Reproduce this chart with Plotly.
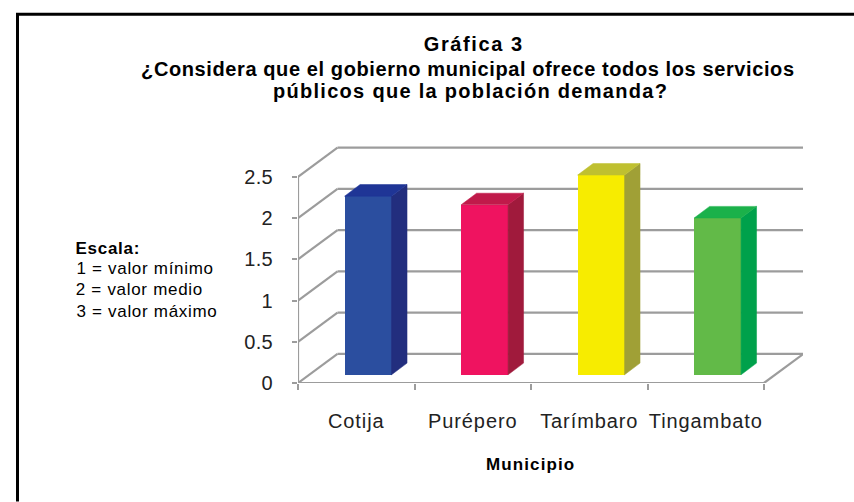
import json
import plotly.graph_objects as go

categorias = ["Cotija", "Purépero", "Tarímbaro", "Tingambato"]
valores = [2.165, 2.06, 2.42, 1.90]
color_frente = ["#2B4E9F", "#EF1360", "#F7EC00", "#62BA48"]
color_lado = ["#222E7E", "#A01A3C", "#A0A036", "#00A14B"]
color_tapa = ["#1F3596", "#C01A4A", "#BFC030", "#1BB14A"]
marcas_y = [0, 0.5, 1, 1.5, 2, 2.5]
etiquetas_y = ["0", "0.5", "1", "1.5", "2", "2.5"]

W, H = 854, 502
L, R, T, B = 298.0, 803.0, 145.7, 383.3
X_MAX = (R - L) / 116.5
Y_MAX = (B - T) / 82.7
PROF_X, PROF_Y = 0.339, 0.354      # wall depth in data units
BAR_DX, BAR_DY = 0.133, 0.141      # bar depth in data units
BAR_OFF, BAR_W, BAR_BASE = 0.40, 0.403, 0.10
GRID = "#9C9C9C"
FONT = "Liberation Sans"

def px(x):
    return (x - L) / (R - L)

def py(y):
    return (B - y) / (B - T)

fig = go.Figure()
n = len(categorias)
shapes = []

def grid(x0, y0, x1, y1):
    shapes.append(dict(type="line", xref="x", yref="y", x0=x0, y0=y0, x1=x1, y1=y1,
                       line=dict(color=GRID, width=2.2), layer="below"))

for m in marcas_y:
    grid(0, m, PROF_X, m + PROF_Y)
    grid(PROF_X, m + PROF_Y, n + PROF_X, m + PROF_Y)
grid(0, 0, 0, marcas_y[-1])
grid(0, 0, n, 0)
grid(n, 0, n + PROF_X, PROF_Y)

# outer frame: left and top edges only
shapes.append(dict(type="path", xref="paper", yref="paper",
                   path=f"M {px(17.5)} {py(H)} L {px(17.5)} {py(13.5)} L {px(W)} {py(13.5)}",
                   line=dict(color="#000000", width=3)))

for i, v in enumerate(valores):
    x0 = i + BAR_OFF
    x1 = x0 + BAR_W
    fig.add_trace(go.Bar(x=[x0 + BAR_W / 2], y=[v], base=[BAR_BASE], width=[BAR_W],
                         marker=dict(color=color_frente[i], line=dict(width=0)),
                         name=categorias[i], showlegend=False))
    top = BAR_BASE + v
    fig.add_trace(go.Scatter(
        x=[x1, x1 + BAR_DX, x1 + BAR_DX, x1, x1],
        y=[BAR_BASE, BAR_BASE + BAR_DY, top + BAR_DY, top, BAR_BASE],
        mode="lines", fill="toself", fillcolor=color_lado[i],
        line=dict(color=color_lado[i], width=0.5), showlegend=False, hoverinfo="skip"))
    fig.add_trace(go.Scatter(
        x=[x0, x1, x1 + BAR_DX, x0 + BAR_DX, x0],
        y=[top, top, top + BAR_DY, top + BAR_DY, top],
        mode="lines", fill="toself", fillcolor=color_tapa[i],
        line=dict(color=color_tapa[i], width=0.5), showlegend=False, hoverinfo="skip"))

espacios = []

def texto(x, y, s, size, bold=False, espacio=0.0):
    fig.add_annotation(xref="paper", yref="paper", x=px(x), y=py(y), text=f"<b>{s}</b>" if bold else s,
                       showarrow=False, xanchor="center", yanchor="middle",
                       font=dict(family=FONT, size=size, color="#000000"))
    espacios.append(espacio)

texto(474, 43, "Gráfica 3", 20, True, 1.6)
texto(467.5, 69, "¿Considera que el gobierno municipal ofrece todos los servicios", 20, True, 0.6)
texto(470.5, 91, "públicos que la población demanda?", 20, True, 1.3)
texto(530, 465, "Municipio", 17, True, 1.1)
texto(108, 248, "Escala:", 17, True, 0.7)
texto(144.5, 269, "1 = valor mínimo", 17, False, 0.7)
texto(139.5, 290, "2 = valor medio", 17, False, 0.7)
texto(147, 312, "3 = valor máximo", 17, False, 0.7)

fig.update_layout(
    width=W, height=H, margin=dict(l=L, r=W - R, t=T, b=H - B, pad=0),
    paper_bgcolor="white", plot_bgcolor="white", showlegend=False, shapes=shapes,
    bargap=0,
    xaxis=dict(range=[0, X_MAX], showgrid=False, zeroline=False, showline=False,
               tickmode="array", tickvals=[i + 0.5 for i in range(n)], ticktext=categorias,
               ticks="", ticklabelstandoff=24,
               minor=dict(tickmode="array", tickvals=list(range(n + 1)), ticks="outside",
                          ticklen=6, tickwidth=2, tickcolor=GRID, showgrid=False),
               tickfont=dict(family=FONT, size=20, color="#222222")),
    yaxis=dict(range=[0, Y_MAX], showgrid=False, zeroline=False, showline=False,
               tickmode="array", tickvals=marcas_y, ticktext=etiquetas_y,
               ticks="outside", ticklen=5, tickwidth=2, tickcolor=GRID, ticklabelstandoff=15,
               tickfont=dict(family=FONT, size=20, color="#222222")),
)

post = """
document.body.style.margin='0';
var sp = %s;
document.querySelectorAll('.annotation-text').forEach(function(t, i){ t.style.letterSpacing = sp[i] + 'px'; });
document.querySelectorAll('.xtick text').forEach(function(t){ t.style.letterSpacing = '0.9px'; });
document.querySelectorAll('.ytick text').forEach(function(t){ t.style.letterSpacing = '0.3px'; });
""" % json.dumps(espacios)

fig.write_html("out.html", post_script=post, config={"displayModeBar": False})
